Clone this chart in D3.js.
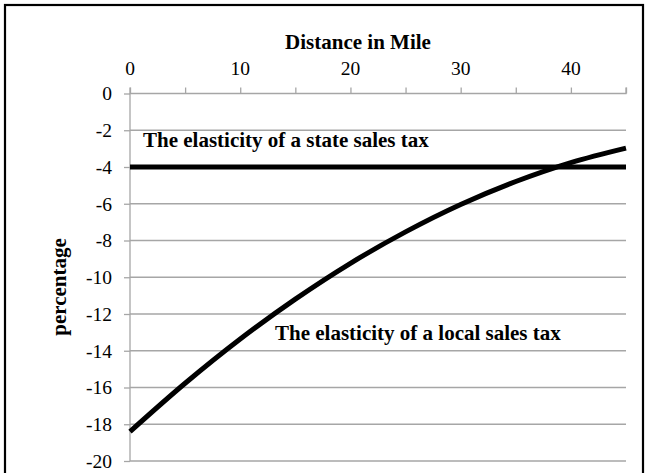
<!DOCTYPE html>
<html>
<head>
<meta charset="utf-8">
<script src="https://cdn.jsdelivr.net/npm/d3@7"></script>
<style>
  html, body { margin: 0; padding: 0; background: #fff; }
  svg { display: block; }
</style>
</head>
<body>
<svg id="chart" width="648" height="473"></svg>
<script>
// ---- data ----
const xTickValues = [0, 10, 20, 30, 40];
const xMinorTicks = [0, 5, 10, 15, 20, 25, 30, 35, 40, 45];
const yTickValues = [0, -2, -4, -6, -8, -10, -12, -14, -16, -18, -20];
const distance = [0, 5, 10, 15, 20, 25, 30, 35, 40, 45];
const localElasticity = [-18.4, -15.77, -13.36, -11.19, -9.24, -7.53, -6.04, -4.79, -3.76, -2.97];
const stateDistance = [0, 45];
const stateElasticity = [-4, -4];
const xTitle = "Distance in Mile";
const yTitle = "percentage";
const stateLabel = "The elasticity of a state sales tax";
const localLabel = "The elasticity of a local sales tax";

// ---- layout ----
const FONT = "'Liberation Serif', 'Times New Roman', Times, serif";
const svg = d3.select("#chart");
const x = d3.scaleLinear().domain([0, 45]).range([130, 626]);
const y = d3.scaleLinear().domain([-20, 0]).range([461, 93.5]);
const grid = "#a6a6a6";

// frame
svg.append("rect").attr("x", 5).attr("y", 5).attr("width", 638).attr("height", 480)
  .attr("fill", "none").attr("stroke", "#000").attr("stroke-width", 2.2);

// horizontal gridlines
svg.append("g").selectAll("line").data(yTickValues.filter(d => d !== 0)).join("line")
  .attr("x1", x(0)).attr("x2", x(45))
  .attr("y1", d => y(d)).attr("y2", d => y(d))
  .attr("stroke", grid).attr("stroke-width", 1.3);

// top x axis (at y = 0)
const xAxis = d3.axisTop(x).tickValues(xMinorTicks).tickSize(6).tickFormat("");
const gx = svg.append("g").attr("transform", `translate(0,${y(0)})`).call(xAxis);
gx.select(".domain").attr("stroke", grid).attr("stroke-width", 1.3).attr("d", `M${x(0)},-6V0H${x(45)}V-6`);
gx.selectAll(".tick line").attr("stroke", grid).attr("stroke-width", 1.3);
svg.append("g").selectAll("text").data(xTickValues).join("text")
  .attr("x", d => x(d)).attr("y", 75)
  .attr("text-anchor", "middle")
  .style("font-family", FONT).style("font-size", "19.5px").style("fill", "#000")
  .text(d => d);

// left y axis
const yAxis = d3.axisLeft(y).tickValues(yTickValues).tickSize(6).tickPadding(12)
  .tickFormat(d => String(d));
const gy = svg.append("g").attr("transform", `translate(${x(0)},0)`).call(yAxis);
gy.attr("font-family", null).attr("font-size", null);
gy.select(".domain").attr("stroke", grid).attr("stroke-width", 1.3).attr("d", `M0,${y(0)}V${y(-20)}`);
gy.selectAll(".tick line").attr("stroke", grid).attr("stroke-width", 1.3);
gy.selectAll(".tick text")
  .style("font-family", FONT).style("font-size", "19.5px").style("fill", "#000");

// titles
svg.append("text").attr("x", 358).attr("y", 48.5).attr("text-anchor", "middle")
  .style("font-family", FONT).style("font-size", "21px").style("font-weight", "bold")
  .text(xTitle);
svg.append("text").attr("transform", "translate(66,287) rotate(-90)").attr("text-anchor", "middle")
  .style("font-family", FONT).style("font-size", "21px").style("font-weight", "bold")
  .text(yTitle);

// state line
const line = d3.line().x(d => x(d[0])).y(d => y(d[1]));
svg.append("path").datum(d3.zip(stateDistance, stateElasticity))
  .attr("d", line).attr("fill", "none").attr("stroke", "#000").attr("stroke-width", 5);

// local curve
const curve = d3.line().x(d => x(d[0])).y(d => y(d[1])).curve(d3.curveMonotoneX);
svg.append("path").datum(d3.zip(distance, localElasticity))
  .attr("d", curve).attr("fill", "none").attr("stroke", "#000").attr("stroke-width", 5);

// labels
svg.append("text").attr("x", 143).attr("y", 146.5)
  .style("font-family", FONT).style("font-size", "21px").style("font-weight", "bold")
  .text(stateLabel);
svg.append("text").attr("x", 275).attr("y", 340)
  .style("font-family", FONT).style("font-size", "21px").style("font-weight", "bold")
  .text(localLabel);
</script>
</body>
</html>
